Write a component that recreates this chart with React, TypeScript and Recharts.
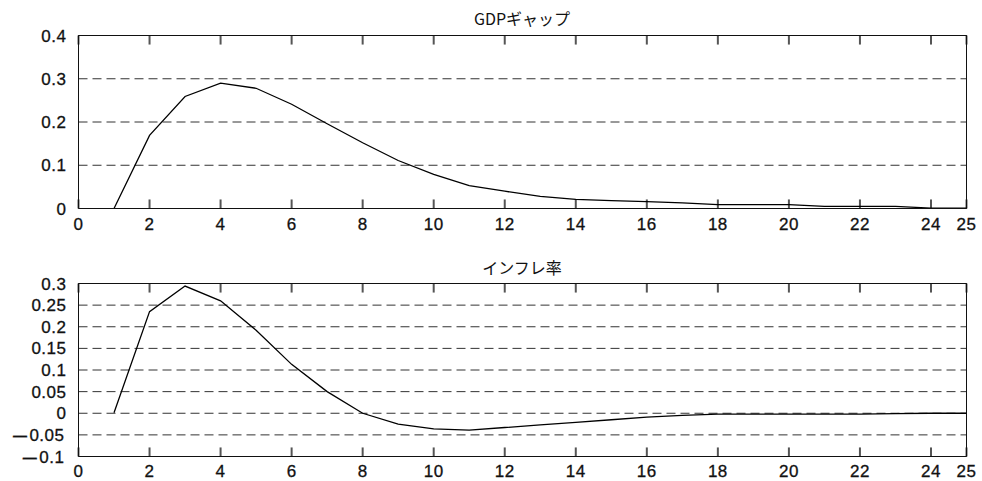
import React from "react"
import {
  LineChart,
  Line,
  XAxis,
  YAxis,
  CartesianGrid,
  ReferenceLine,
} from "recharts"

// periods after the shock
const periods = [1, 2, 3, 4, 5, 6, 7, 8, 9, 10, 11, 12, 13, 14, 15, 16, 17, 18, 19, 20, 21, 22, 23, 24, 25]

// impulse responses
const gdpGap = [
  0, 0.169, 0.259, 0.29, 0.278, 0.241, 0.196, 0.152, 0.111, 0.079, 0.053, 0.04, 0.028,
  0.021, 0.018, 0.016, 0.013, 0.009, 0.009, 0.009, 0.005, 0.005, 0.005, 0.001, 0.001,
]
const inflation = [
  0.001, 0.235, 0.294, 0.26, 0.192, 0.113, 0.05, 0.0, -0.025, -0.036, -0.039, -0.033, -0.027,
  -0.021, -0.015, -0.009, -0.005, -0.002, -0.002, -0.002, -0.002, -0.002, -0.001, 0.0, 0.0,
]

const xTicks = [0, 2, 4, 6, 8, 10, 12, 14, 16, 18, 20, 22, 24, 25]
const gdpTicks = [0, 0.1, 0.2, 0.3, 0.4]
const inflTicks = [-0.1, -0.05, 0, 0.05, 0.1, 0.15, 0.2, 0.25, 0.3]

const gdpTitle = "GDPギャップ"
const inflTitle = "インフレ率"

const gdpData = periods.map((t, i) => ({ t, v: gdpGap[i] }))
const inflData = periods.map((t, i) => ({ t, v: inflation[i] }))

const font = "'Liberation Sans', Arial, sans-serif"
const ink = "#111"
const tickInk = "#555"
const fontSize = 17
const plotH = 172
const tickPx = 9

// labels under the box, drawn from the top axis
function makeBottomLabel(labelOffset: number) {
  return function BottomLabel(props: any) {
    const { x, y, payload } = props
    return (
      <text
        x={x}
        y={y + plotH + labelOffset}
        textAnchor="middle"
        fontFamily={font}
        fontSize={fontSize}
        letterSpacing={0.5}
        fill={ink}
        stroke={ink}
        strokeWidth={0.3}
      >
        {payload.value}
      </text>
    )
  }
}

function LeftTick(props: any) {
  const { x, y, payload } = props
  const v: number = payload.value
  const s = String(Math.round(Math.abs(v) * 100) / 100)
  return (
    <text
      x={x}
      y={y}
      dy="0.36em"
      textAnchor="end"
      fontFamily={font}
      fontSize={fontSize}
      letterSpacing={0.5}
      fill={ink}
      stroke={ink}
      strokeWidth={0.3}
    >
      {v < 0 && (
        <tspan fontSize={14} fontWeight="bold">
          —
        </tspan>
      )}
      <tspan dx={2}>{s}</tspan>
    </text>
  )
}

interface PanelProps {
  data: { t: number; v: number }[]
  title: string
  height: number
  top: number
  bottom: number
  domain: [number, number]
  yTicks: number[]
  titleTop: number
  labelOffset: number
}

function Panel({ data, title, height, top, bottom, domain, yTicks, titleTop, labelOffset }: PanelProps) {
  const BottomLabel = makeBottomLabel(labelOffset)
  const [lo, hi] = domain
  const len = ((hi - lo) * tickPx) / plotH
  return (
    <div style={{ position: "relative", width: 982, height }}>
      <div
        style={{
          position: "absolute",
          left: 78,
          width: 888,
          top: titleTop,
          textAlign: "center",
          fontFamily: "'Noto Sans CJK JP', sans-serif",
          fontSize: 16,
          color: ink,
          lineHeight: "20px",
        }}
      >
        {title}
      </div>
      <LineChart
        width={982}
        height={height}
        data={data}
        margin={{ top, right: 15.5, bottom: 0, left: 0 }}
      >
        <CartesianGrid vertical={false} stroke="#333" strokeDasharray="9 5" />
        <XAxis
          dataKey="t"
          type="number"
          domain={[0, 25]}
          ticks={xTicks}
          interval={0}
          height={bottom}
          tickLine={false}
          tick={false}
          stroke={ink}
        />
        <XAxis
          xAxisId="top"
          orientation="top"
          dataKey="t"
          type="number"
          domain={[0, 25]}
          ticks={xTicks}
          interval={0}
          height={1}
          tickSize={0}
          tickMargin={0}
          tickLine={false}
          tick={BottomLabel}
          stroke={ink}
        />
        <YAxis
          type="number"
          domain={domain}
          ticks={yTicks}
          interval={0}
          width={78.5}
          tickLine={false}
          tickSize={0}
          tickMargin={14}
          tick={LeftTick}
          stroke={ink}
        />
        {xTicks.map((t) => (
          <ReferenceLine
            key={`b${t}`}
            segment={[
              { x: t, y: lo },
              { x: t, y: lo + len },
            ]}
            stroke={tickInk}
            strokeWidth={2}
          />
        ))}
        {xTicks.map((t) => (
          <ReferenceLine
            key={`t${t}`}
            segment={[
              { x: t, y: hi },
              { x: t, y: hi - len },
            ]}
            stroke={tickInk}
            strokeWidth={2}
          />
        ))}
        <ReferenceLine y={hi} stroke={ink} />
        <ReferenceLine x={25} stroke={ink} />
        <Line
          type="linear"
          dataKey="v"
          stroke="#000"
          strokeWidth={1.3}
          dot={false}
          isAnimationActive={false}
        />
      </LineChart>
    </div>
  )
}

export default function App() {
  return (
    <div style={{ position: "absolute", left: 0, top: 0, width: 982, height: 481, background: "#fff" }}>
      <Panel
        data={gdpData}
        title={gdpTitle}
        height={240}
        top={34.5}
        bottom={31.5}
        domain={[0, 0.4]}
        yTicks={gdpTicks}
        titleTop={8}
        labelOffset={22}
      />
      <Panel
        data={inflData}
        title={inflTitle}
        height={241}
        top={42.5}
        bottom={24.5}
        domain={[-0.1, 0.3]}
        yTicks={inflTicks}
        titleTop={17}
        labelOffset={21}
      />
    </div>
  )
}
